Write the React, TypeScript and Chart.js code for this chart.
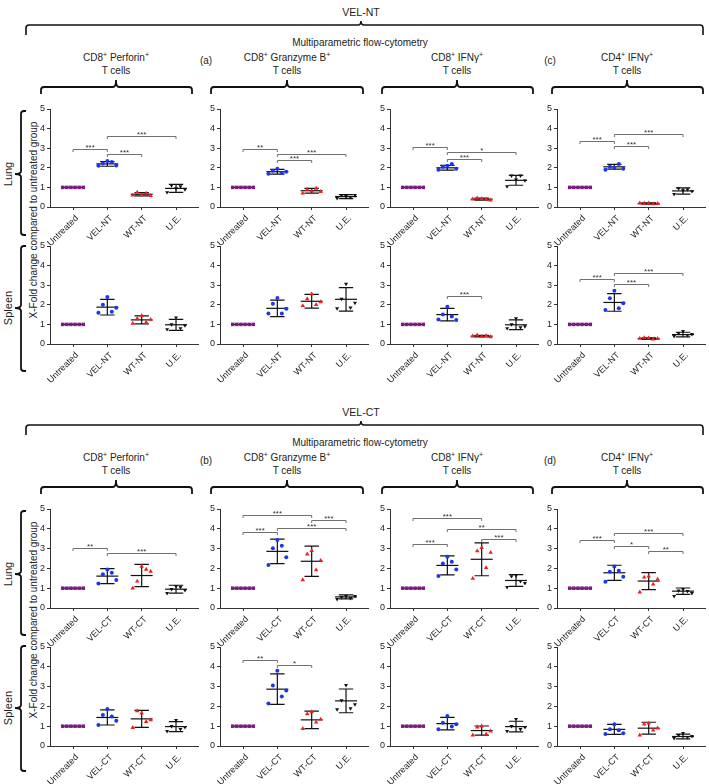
import React, { useEffect, useRef } from "react";
import { Chart, registerables } from "chart.js";
Chart.register(...registerables);

const FONT = "'Liberation Sans', Arial, Helvetica, sans-serif";

// ---------- categories & ticks ----------
const GROUPS_NT = ["Untreated", "VEL-NT", "WT-NT", "U.E."];
const GROUPS_CT = ["Untreated", "VEL-CT", "WT-CT", "U.E."];
const Y_TICKS = [0, 1, 2, 3, 4, 5];
const UNTREATED = [1, 1, 1, 1, 1, 1];

// ---------- VEL-NT block ----------
// points: [VEL, WT, U.E.]; mean/sd: [Untreated, VEL, WT, U.E.]; sig: [from, to, y, label]
const NT_PERF_LUNG_PTS = [[2.1, 2.22, 2.35, 2.3, 2.12], [0.6, 0.75, 0.62, 0.7, 0.58], [0.75, 1.1, 0.95, 1.05, 0.9]];
const NT_PERF_LUNG_MEAN = [1, 2.2, 0.65, 0.95];
const NT_PERF_LUNG_SD = [0, 0.12, 0.08, 0.2];
const NT_PERF_LUNG_SIG = [[0, 1, 2.94, "***"], [1, 2, 2.69, "***"], [1, 3, 3.62, "***"]];

const NT_GRZ_LUNG_PTS = [[1.7, 1.85, 1.95, 1.75, 1.8], [0.7, 0.9, 0.8, 0.95, 0.78], [0.45, 0.6, 0.55, 0.5, 0.6]];
const NT_GRZ_LUNG_MEAN = [1, 1.8, 0.83, 0.53];
const NT_GRZ_LUNG_SD = [0, 0.12, 0.12, 0.1];
const NT_GRZ_LUNG_SIG = [[0, 1, 2.94, "**"], [1, 3, 2.69, "***"], [1, 2, 2.38, "***"]];

const NT_IFN8_LUNG_PTS = [[1.9, 2.05, 2.1, 2.2, 1.95], [0.4, 0.45, 0.42, 0.38, 0.35], [1.05, 1.6, 1.4, 1.6, 1.35]];
const NT_IFN8_LUNG_MEAN = [1, 2.0, 0.4, 1.36];
const NT_IFN8_LUNG_SD = [0, 0.12, 0.05, 0.25];
const NT_IFN8_LUNG_SIG = [[0, 1, 3.04, "***"], [1, 3, 2.82, "*"], [1, 2, 2.45, "***"]];

const NT_IFN4_LUNG_PTS = [[1.9, 2.05, 2.0, 2.2, 1.95], [0.2, 0.18, 0.2, 0.15, 0.17], [0.65, 0.95, 0.85, 0.9, 0.8]];
const NT_IFN4_LUNG_MEAN = [1, 2.05, 0.18, 0.82];
const NT_IFN4_LUNG_SD = [0, 0.12, 0.03, 0.16];
const NT_IFN4_LUNG_SIG = [[0, 1, 3.38, "***"], [1, 2, 3.11, "***"], [1, 3, 3.7, "***"]];

const NT_PERF_SPL_PTS = [[1.6, 2.0, 2.4, 1.65, 1.85], [1.05, 1.3, 1.45, 1.1, 1.25], [0.75, 1.0, 1.35, 0.8, 0.95]];
const NT_PERF_SPL_MEAN = [1, 1.88, 1.23, 0.98];
const NT_PERF_SPL_SD = [0, 0.4, 0.2, 0.28];
const NT_PERF_SPL_SIG = [];

const NT_GRZ_SPL_PTS = [[1.55, 2.05, 2.35, 1.55, 1.8], [1.95, 2.3, 2.55, 2.0, 2.15], [1.82, 2.3, 3.07, 1.85, 2.1]];
const NT_GRZ_SPL_MEAN = [1, 1.82, 2.18, 2.28];
const NT_GRZ_SPL_SD = [0, 0.42, 0.35, 0.6];
const NT_GRZ_SPL_SIG = [];

const NT_IFN8_SPL_PTS = [[1.25, 1.5, 1.9, 1.4, 1.22], [0.4, 0.45, 0.38, 0.42, 0.36], [0.8, 1.0, 1.3, 0.85, 0.9]];
const NT_IFN8_SPL_MEAN = [1, 1.5, 0.4, 0.98];
const NT_IFN8_SPL_SD = [0, 0.32, 0.04, 0.25];
const NT_IFN8_SPL_SIG = [[1, 2, 2.46, "***"]];

const NT_IFN4_SPL_PTS = [[1.74, 2.33, 2.72, 1.82, 2.08], [0.28, 0.32, 0.3, 0.25, 0.27], [0.4, 0.55, 0.65, 0.45, 0.5]];
const NT_IFN4_SPL_MEAN = [1, 2.12, 0.28, 0.48];
const NT_IFN4_SPL_SD = [0, 0.45, 0.04, 0.12];
const NT_IFN4_SPL_SIG = [[0, 1, 3.31, "***"], [1, 2, 3.06, "***"], [1, 3, 3.63, "***"]];

// ---------- VEL-CT block ----------
const CT_PERF_LUNG_PTS = [[1.24, 1.71, 1.95, 1.78, 1.41], [1.0, 1.35, 2.1, 1.95, 1.85], [0.75, 0.95, 1.1, 1.05, 0.9]];
const CT_PERF_LUNG_MEAN = [1, 1.61, 1.64, 0.95];
const CT_PERF_LUNG_SD = [0, 0.38, 0.56, 0.2];
const CT_PERF_LUNG_SIG = [[0, 1, 3.02, "**"], [1, 3, 2.8, "***"]];

const CT_GRZ_LUNG_PTS = [[2.17, 3.02, 3.44, 3.14, 2.56], [1.42, 2.72, 2.9, 1.92, 2.4], [0.45, 0.55, 0.6, 0.5, 0.6]];
const CT_GRZ_LUNG_MEAN = [1, 2.86, 2.36, 0.56];
const CT_GRZ_LUNG_SD = [0, 0.62, 0.76, 0.1];
const CT_GRZ_LUNG_SIG = [[0, 1, 3.83, "***"], [1, 3, 4.02, "***"], [0, 2, 4.69, "***"], [2, 3, 4.46, "***"]];

const CT_IFN8_LUNG_PTS = [[1.61, 2.25, 2.59, 2.34, 1.95], [1.49, 2.88, 3.05, 2.03, 2.8], [1.05, 1.6, 1.65, 1.35, 1.25]];
const CT_IFN8_LUNG_MEAN = [1, 2.15, 2.46, 1.39];
const CT_IFN8_LUNG_SD = [0, 0.48, 0.83, 0.3];
const CT_IFN8_LUNG_SIG = [[0, 1, 3.22, "***"], [0, 2, 4.54, "***"], [1, 3, 3.98, "**"], [2, 3, 3.47, "***"]];

const CT_IFN4_LUNG_PTS = [[1.32, 1.83, 2.1, 1.88, 1.58], [0.8, 1.55, 1.6, 1.2, 1.45], [0.6, 0.88, 0.95, 0.85, 0.75]];
const CT_IFN4_LUNG_MEAN = [1, 1.78, 1.36, 0.85];
const CT_IFN4_LUNG_SD = [0, 0.38, 0.43, 0.16];
const CT_IFN4_LUNG_SIG = [[0, 1, 3.42, "***"], [1, 2, 3.14, "*"], [2, 3, 2.86, "**"], [1, 3, 3.81, "***"]];

const CT_PERF_SPL_PTS = [[1.06, 1.57, 1.87, 1.49, 1.28], [0.93, 1.77, 1.66, 1.23, 1.32], [0.75, 1.0, 1.3, 0.85, 0.95]];
const CT_PERF_SPL_MEAN = [1, 1.44, 1.37, 0.98];
const CT_PERF_SPL_SD = [0, 0.38, 0.43, 0.25];
const CT_PERF_SPL_SIG = [];

const CT_GRZ_SPL_PTS = [[2.15, 3.05, 3.8, 2.5, 2.8], [0.88, 1.62, 1.72, 1.2, 1.35], [1.85, 2.3, 3.07, 1.9, 2.1]];
const CT_GRZ_SPL_MEAN = [1, 2.87, 1.32, 2.28];
const CT_GRZ_SPL_SD = [0, 0.77, 0.44, 0.6];
const CT_GRZ_SPL_SIG = [[0, 1, 4.34, "**"], [1, 2, 4.07, "*"]];

const CT_IFN8_SPL_PTS = [[0.84, 1.18, 1.52, 0.98, 1.1], [0.55, 0.95, 1.0, 0.6, 0.75], [0.75, 1.0, 1.35, 0.85, 0.95]];
const CT_IFN8_SPL_MEAN = [1, 1.13, 0.78, 0.98];
const CT_IFN8_SPL_SD = [0, 0.32, 0.23, 0.27];
const CT_IFN8_SPL_SIG = [];

const CT_IFN4_SPL_PTS = [[0.6, 0.85, 1.1, 0.8, 0.65], [0.55, 1.1, 1.15, 0.8, 0.9], [0.4, 0.55, 0.65, 0.45, 0.5]];
const CT_IFN4_SPL_MEAN = [1, 0.84, 0.9, 0.48];
const CT_IFN4_SPL_SD = [0, 0.25, 0.3, 0.12];
const CT_IFN4_SPL_SIG = [];

// ---------- layout (positions only) ----------
const COL_X = [50, 220, 390, 557];
const ROW_Y = [[109, 207], [246, 344], [509, 608], [647, 746]];
const AXIS_W = 148;
const PAD_L = 24, PAD_T = 10, PAD_R = 8, PAD_B = 44;
const JIT5 = [-0.26, -0.13, 0, 0.13, 0.26];
const JIT6 = [-0.3, -0.18, -0.06, 0.06, 0.18, 0.3];

const MARKERS = [
  { color: "#7e1a82", style: "rect", r: 2.5, rot: 0 },
  { color: "#1a36f0", style: "circle", r: 2.0, rot: 0 },
  { color: "#f01e1e", style: "triangle", r: 2.6, rot: 0 },
  { color: "#111111", style: "triangle", r: 2.3, rot: 180 },
];

type Sig = (number | string)[];
interface PanelDef { groups: string[]; pts: number[][]; mean: number[]; sd: number[]; sig: Sig[]; col: number; row: number; }

const PANELS: PanelDef[] = [
  { groups: GROUPS_NT, pts: NT_PERF_LUNG_PTS, mean: NT_PERF_LUNG_MEAN, sd: NT_PERF_LUNG_SD, sig: NT_PERF_LUNG_SIG, col: 0, row: 0 },
  { groups: GROUPS_NT, pts: NT_GRZ_LUNG_PTS, mean: NT_GRZ_LUNG_MEAN, sd: NT_GRZ_LUNG_SD, sig: NT_GRZ_LUNG_SIG, col: 1, row: 0 },
  { groups: GROUPS_NT, pts: NT_IFN8_LUNG_PTS, mean: NT_IFN8_LUNG_MEAN, sd: NT_IFN8_LUNG_SD, sig: NT_IFN8_LUNG_SIG, col: 2, row: 0 },
  { groups: GROUPS_NT, pts: NT_IFN4_LUNG_PTS, mean: NT_IFN4_LUNG_MEAN, sd: NT_IFN4_LUNG_SD, sig: NT_IFN4_LUNG_SIG, col: 3, row: 0 },
  { groups: GROUPS_NT, pts: NT_PERF_SPL_PTS, mean: NT_PERF_SPL_MEAN, sd: NT_PERF_SPL_SD, sig: NT_PERF_SPL_SIG, col: 0, row: 1 },
  { groups: GROUPS_NT, pts: NT_GRZ_SPL_PTS, mean: NT_GRZ_SPL_MEAN, sd: NT_GRZ_SPL_SD, sig: NT_GRZ_SPL_SIG, col: 1, row: 1 },
  { groups: GROUPS_NT, pts: NT_IFN8_SPL_PTS, mean: NT_IFN8_SPL_MEAN, sd: NT_IFN8_SPL_SD, sig: NT_IFN8_SPL_SIG, col: 2, row: 1 },
  { groups: GROUPS_NT, pts: NT_IFN4_SPL_PTS, mean: NT_IFN4_SPL_MEAN, sd: NT_IFN4_SPL_SD, sig: NT_IFN4_SPL_SIG, col: 3, row: 1 },
  { groups: GROUPS_CT, pts: CT_PERF_LUNG_PTS, mean: CT_PERF_LUNG_MEAN, sd: CT_PERF_LUNG_SD, sig: CT_PERF_LUNG_SIG, col: 0, row: 2 },
  { groups: GROUPS_CT, pts: CT_GRZ_LUNG_PTS, mean: CT_GRZ_LUNG_MEAN, sd: CT_GRZ_LUNG_SD, sig: CT_GRZ_LUNG_SIG, col: 1, row: 2 },
  { groups: GROUPS_CT, pts: CT_IFN8_LUNG_PTS, mean: CT_IFN8_LUNG_MEAN, sd: CT_IFN8_LUNG_SD, sig: CT_IFN8_LUNG_SIG, col: 2, row: 2 },
  { groups: GROUPS_CT, pts: CT_IFN4_LUNG_PTS, mean: CT_IFN4_LUNG_MEAN, sd: CT_IFN4_LUNG_SD, sig: CT_IFN4_LUNG_SIG, col: 3, row: 2 },
  { groups: GROUPS_CT, pts: CT_PERF_SPL_PTS, mean: CT_PERF_SPL_MEAN, sd: CT_PERF_SPL_SD, sig: CT_PERF_SPL_SIG, col: 0, row: 3 },
  { groups: GROUPS_CT, pts: CT_GRZ_SPL_PTS, mean: CT_GRZ_SPL_MEAN, sd: CT_GRZ_SPL_SD, sig: CT_GRZ_SPL_SIG, col: 1, row: 3 },
  { groups: GROUPS_CT, pts: CT_IFN8_SPL_PTS, mean: CT_IFN8_SPL_MEAN, sd: CT_IFN8_SPL_SD, sig: CT_IFN8_SPL_SIG, col: 2, row: 3 },
  { groups: GROUPS_CT, pts: CT_IFN4_SPL_PTS, mean: CT_IFN4_SPL_MEAN, sd: CT_IFN4_SPL_SD, sig: CT_IFN4_SPL_SIG, col: 3, row: 3 },
];

function extrasPlugin(p: PanelDef) {
  return {
    id: "extras",
    beforeDatasetsDraw(chart: any) {
      const { ctx } = chart;
      const x = chart.scales.x, y = chart.scales.y;
      ctx.save();
      ctx.strokeStyle = "#111";
      ctx.lineWidth = 1.2;
      p.mean.forEach((m, gi) => {
        const cx = x.getPixelForValue(gi);
        const ym = y.getPixelForValue(m);
        ctx.beginPath();
        ctx.moveTo(x.getPixelForValue(gi - 0.32), ym);
        ctx.lineTo(x.getPixelForValue(gi + 0.32), ym);
        ctx.stroke();
        const s = p.sd[gi];
        if (s > 0) {
          const yt = y.getPixelForValue(m + s), yb = y.getPixelForValue(m - s);
          const c0 = x.getPixelForValue(gi - 0.21), c1 = x.getPixelForValue(gi + 0.21);
          ctx.beginPath();
          ctx.moveTo(cx, yt); ctx.lineTo(cx, yb);
          ctx.moveTo(c0, yt); ctx.lineTo(c1, yt);
          ctx.moveTo(c0, yb); ctx.lineTo(c1, yb);
          ctx.stroke();
        }
      });
      ctx.restore();
    },
    afterDatasetsDraw(chart: any) {
      const { ctx } = chart;
      const x = chart.scales.x, y = chart.scales.y;
      ctx.save();
      p.sig.forEach((s) => {
        const a = s[0] as number, b = s[1] as number, v = s[2] as number, lab = s[3] as string;
        const xa = x.getPixelForValue(a), xb = x.getPixelForValue(b);
        const yy = Math.round(y.getPixelForValue(v)) + 0.5;
        ctx.strokeStyle = "#707070";
        ctx.lineWidth = 1;
        ctx.beginPath();
        ctx.moveTo(xa, yy + 2.5); ctx.lineTo(xa, yy); ctx.lineTo(xb, yy); ctx.lineTo(xb, yy + 2.5);
        ctx.stroke();
        ctx.fillStyle = "#333";
        ctx.font = `8px ${FONT}`;
        ctx.textAlign = "center";
        ctx.textBaseline = "alphabetic";
        ctx.fillText(lab, (xa + xb) / 2, yy + 0.5);
      });
      ctx.restore();
    },
  };
}

function Panel({ p }: { p: PanelDef }) {
  const ref = useRef<HTMLCanvasElement>(null);
  const L = COL_X[p.col];
  const [T, B] = ROW_Y[p.row];
  const W = PAD_L + AXIS_W + PAD_R;
  const H = (B - T) + PAD_T + PAD_B;
  useEffect(() => {
    if (!ref.current) return;
    const series = [UNTREATED, ...p.pts];
    const datasets = series.map((vals, gi) => {
      const jit = vals.length === 6 ? JIT6 : JIT5;
      const mk = MARKERS[gi];
      return {
        type: "scatter" as const,
        data: vals.map((v, k) => ({ x: gi + jit[k], y: v })),
        pointStyle: mk.style,
        pointRotation: mk.rot,
        pointRadius: mk.r,
        pointBackgroundColor: mk.color,
        pointBorderColor: mk.color,
        pointBorderWidth: 0,
        backgroundColor: mk.color,
        borderColor: mk.color,
        borderWidth: 0,
        showLine: false,
      };
    });
    const tickFont = { size: 9, family: FONT };
    const chart = new Chart(ref.current, {
      type: "scatter",
      data: { datasets },
      options: {
        animation: false,
        responsive: false,
        maintainAspectRatio: false,
        events: [],
        layout: { padding: { top: PAD_T, right: PAD_R, left: 0, bottom: 0 } },
        plugins: { legend: { display: false }, tooltip: { enabled: false }, title: { display: false } },
        scales: {
          x: {
            type: "linear",
            min: -0.67,
            max: 3.64,
            afterBuildTicks: (s: any) => { s.ticks = [0, 1, 2, 3].map((v) => ({ value: v })); },
            ticks: {
              autoSkip: false,
              minRotation: 45,
              maxRotation: 45,
              padding: 3,
              labelOffset: 4,
              color: "#222",
              font: tickFont,
              callback: (v: any) => p.groups[Math.round(Number(v))] ?? "",
            },
            grid: { drawOnChartArea: false, drawTicks: true, tickLength: 3, color: "#333", lineWidth: 1 },
            border: { display: true, color: "#333", width: 1 },
            afterFit: (s: any) => { s.height = PAD_B; s.paddingLeft = 0; s.paddingRight = 0; },
          },
          y: {
            type: "linear",
            min: 0,
            max: 5,
            afterBuildTicks: (s: any) => { s.ticks = Y_TICKS.map((v) => ({ value: v })); },
            ticks: { padding: 2, color: "#222", font: tickFont },
            grid: { drawOnChartArea: false, drawTicks: true, tickLength: 3, color: "#333", lineWidth: 1 },
            border: { display: true, color: "#333", width: 1 },
            afterFit: (s: any) => { s.width = PAD_L; s.paddingTop = 0; s.paddingBottom = 0; },
          },
        },
      },
      plugins: [extrasPlugin(p)],
    } as any);
    return () => chart.destroy();
  }, []);
  return (
    <canvas
      ref={ref}
      width={W}
      height={H}
      style={{ position: "absolute", left: L - PAD_L, top: T - PAD_T, width: W, height: H }}
    />
  );
}

function hBrace(x1: number, x2: number, cx: number, y: number, h: number, t: number) {
  return `M ${x1} ${y + h} L ${x1} ${y + 3} Q ${x1} ${y} ${x1 + 3} ${y} L ${cx - 3} ${y} Q ${cx} ${y} ${cx} ${y - t} Q ${cx} ${y} ${cx + 3} ${y} L ${x2 - 3} ${y} Q ${x2} ${y} ${x2} ${y + 3} L ${x2} ${y + h}`;
}
function vBrace(x: number, y1: number, y2: number, ym: number) {
  return `M ${x + 5} ${y1} L ${x + 3} ${y1} Q ${x} ${y1} ${x} ${y1 + 3} L ${x} ${ym - 3} Q ${x} ${ym} ${x - 6} ${ym} Q ${x} ${ym} ${x} ${ym + 3} L ${x} ${y2 - 3} Q ${x} ${y2} ${x + 3} ${y2} L ${x + 5} ${y2}`;
}

const TITLE_CENTERS = [116, 287, 457, 627];
const SMALL_BRACES = [[41, 192], [211, 363], [382, 533], [552, 703]];

function Sup({ children }: { children: any }) {
  return <tspan fontSize={7} dy={-3.5}>{children}</tspan>;
}

function TitleLine({ x, y, parts }: { x: number; y: number; parts: [string, string][] }) {
  return (
    <text x={x} y={y} textAnchor="middle" fontSize={10} fill="#222" fontFamily={FONT}>
      {parts.map(([t, s], i) => (
        <React.Fragment key={i}>
          <tspan dy={i === 0 ? 0 : 3.5}>{t}</tspan>
          <Sup>{s}</Sup>
        </React.Fragment>
      ))}
    </text>
  );
}

function Header({ dy, title, letters }: { dy: number; title: string; letters: string[] }) {
  const titles: [string, string][][] = [
    [["CD8", "+"], [" Perforin", "+"]],
    [["CD8", "+"], [" Granzyme B", "+"]],
    [["CD8", "+"], [" IFNγ", "+"]],
    [["CD4", "+"], [" IFNγ", "+"]],
  ];
  return (
    <g>
      <text x={361} y={15.5 + dy} textAnchor="middle" fontSize={10.5} fill="#222" fontFamily={FONT}>{title}</text>
      <path d={hBrace(26, 703, 361, 25 + dy, 10, 4)} fill="none" stroke="#111" strokeWidth={1.6} />
      <text x={360} y={45.5 + dy} textAnchor="middle" fontSize={10} fill="#222" fontFamily={FONT}>Multiparametric flow-cytometry</text>
      {titles.map((parts, i) => (
        <g key={i}>
          <TitleLine x={TITLE_CENTERS[i]} y={60.5 + dy} parts={parts} />
          <text x={TITLE_CENTERS[i]} y={73.5 + dy} textAnchor="middle" fontSize={10} fill="#222" fontFamily={FONT}>T cells</text>
          <path d={hBrace(SMALL_BRACES[i][0], SMALL_BRACES[i][1], TITLE_CENTERS[i], 87 + dy, 7, 7)} fill="none" stroke="#111" strokeWidth={1.8} />
        </g>
      ))}
      <text x={206} y={63.5 + dy} textAnchor="middle" fontSize={10} fill="#222" fontFamily={FONT}>{letters[0]}</text>
      <text x={550} y={63.5 + dy} textAnchor="middle" fontSize={10} fill="#222" fontFamily={FONT}>{letters[1]}</text>
      <path d={vBrace(21, 111 + dy, 235 + dy, 174 + dy)} fill="none" stroke="#111" strokeWidth={1.8} />
      <path d={vBrace(21, 246 + dy, 371 + dy, 308 + dy)} fill="none" stroke="#111" strokeWidth={1.8} />
      <text transform={`translate(8,${174 + dy}) rotate(-90)`} textAnchor="middle" dominantBaseline="central" fontSize={11} fill="#222" fontFamily={FONT}>Lung</text>
      <text transform={`translate(8,${308 + dy}) rotate(-90)`} textAnchor="middle" dominantBaseline="central" fontSize={11} fill="#222" fontFamily={FONT}>Spleen</text>
      <text transform={`translate(33,${220 + dy}) rotate(-90)`} textAnchor="middle" dominantBaseline="central" fontSize={10} fill="#222" fontFamily={FONT}>X-Fold change compared to untreated group</text>
    </g>
  );
}

export default function App() {
  return (
    <div style={{ position: "absolute", left: 0, top: 0, width: 709, height: 784, background: "#fff", overflow: "hidden" }}>
      <svg width={709} height={784} style={{ position: "absolute", left: 0, top: 0 }}>
        <Header dy={0} title="VEL-NT" letters={["(a)", "(c)"]} />
        <Header dy={400} title="VEL-CT" letters={["(b)", "(d)"]} />
      </svg>
      {PANELS.map((p, i) => <Panel key={i} p={p} />)}
    </div>
  );
}
